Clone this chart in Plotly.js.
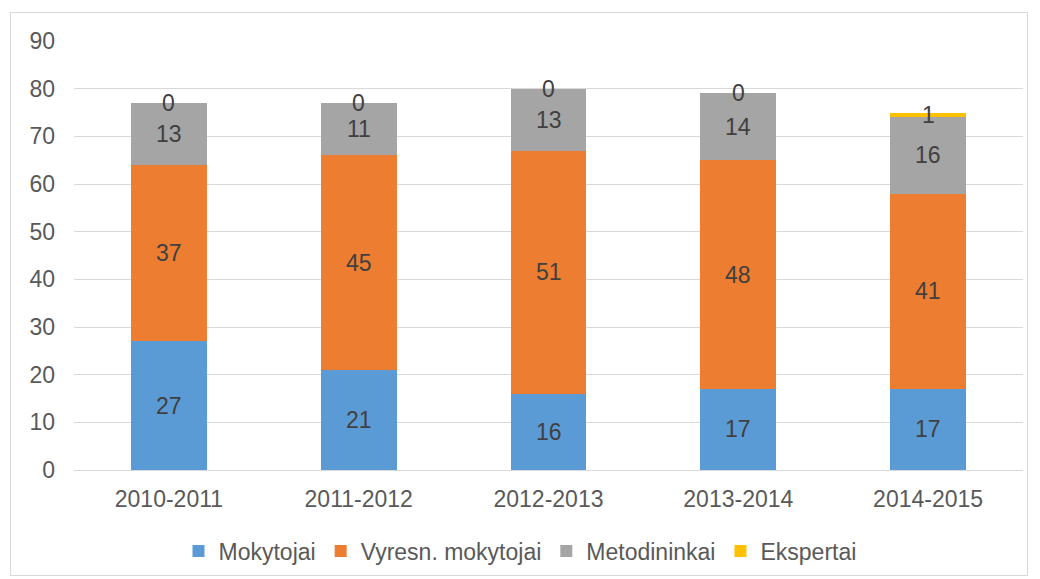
<!DOCTYPE html>
<html><head><meta charset="utf-8">
<script src="https://cdn.plot.ly/plotly-3.0.1.min.js"></script>
<style>
html,body{margin:0;padding:0;background:#fff;}
#frame{position:absolute;left:10px;top:12px;width:1018px;height:564px;border:1px solid #d9d9d9;box-sizing:border-box;}
#chart{position:absolute;left:0;top:0;width:1040px;height:579px;}
</style></head>
<body>
<div id="frame"></div>
<div id="chart"></div>
<script>
const categories = ["2010-2011","2011-2012","2012-2013","2013-2014","2014-2015"];
const seriesNames = ["Mokytojai","Vyresn. mokytojai","Metodininkai","Ekspertai"];
const mokytojai = [27,21,16,17,17];
const vyresn = [37,45,51,48,41];
const metodininkai = [13,11,13,14,16];
const ekspertai = [0,0,0,0,1];
const colors = ["#5B9BD5","#ED7D31","#A5A5A5","#FFC000"];

const allSeries = [mokytojai, vyresn, metodininkai, ekspertai];
const traces = allSeries.map((vals,i)=>({
  type:"bar", name:seriesNames[i], x:categories, y:vals,
  marker:{color:colors[i]}, hoverinfo:"none"
}));

const annotations = [];
const base = categories.map(()=>0);
allSeries.forEach(vals=>{
  vals.forEach((v,j)=>{
    annotations.push({x:categories[j], y:base[j]+v/2, xref:"x", yref:"y",
      text:String(v), showarrow:false, font:{family:"Liberation Sans, Arial, sans-serif", size:23, color:"#404040"}});
    base[j]+=v;
  });
});

const layout = {
  width:1040, height:579,
  margin:{l:74,r:17,t:41,b:109},
  paper_bgcolor:"rgba(0,0,0,0)", plot_bgcolor:"rgba(0,0,0,0)",
  barmode:"stack", bargap:0.6,
  font:{family:"Liberation Sans, Arial, sans-serif", size:23, color:"#595959"},
  xaxis:{showgrid:false, showline:true, linecolor:"#d9d9d9", linewidth:1, ticks:"", ticklabelstandoff:8, tickfont:{size:23,color:"#595959"}, automargin:false},
  yaxis:{range:[0,90], dtick:10, showgrid:true, gridcolor:"#d9d9d9", gridwidth:1, zeroline:false, showline:false, ticks:"", ticklabelstandoff:18, tickfont:{size:23,color:"#595959"}, automargin:false},
  showlegend:true,
  legend:{orientation:"h", x:0.5, xanchor:"center", xref:"container", y:1-551/579, yref:"container", yanchor:"middle", font:{size:23,color:"#595959"}, itemwidth:30, traceorder:"normal"},
  annotations:annotations
};
Plotly.newPlot("chart", traces, layout, {displayModeBar:false, staticPlot:true});
</script>
</body></html>
